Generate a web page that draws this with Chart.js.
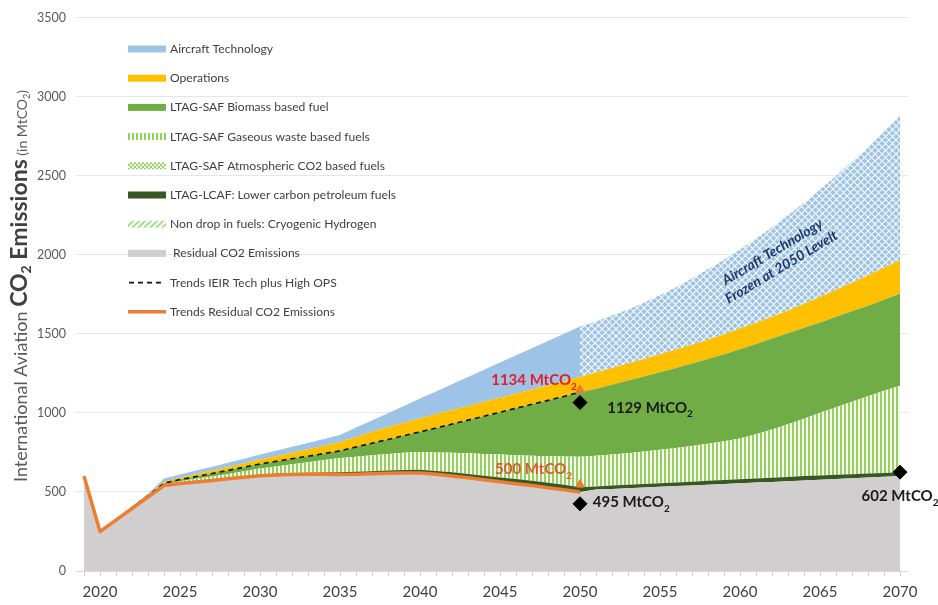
<!DOCTYPE html>
<html><head><meta charset="utf-8">
<script src="https://cdn.jsdelivr.net/npm/chart.js@4.4.0/dist/chart.umd.min.js"></script>
<style>html,body{margin:0;padding:0;background:#fff}#wrap{width:938px;height:605px;position:relative}</style>
</head><body><div id="wrap"><canvas id="c" width="938" height="605"></canvas></div>
<script>
// ---------- DATA (MtCO2), years 2019..2070 ----------
const years = ['2019','2020','2021','2022','2023','2024','2025','2026','2027','2028','2029','2030','2031','2032','2033','2034','2035','2036','2037','2038','2039','2040','2041','2042','2043','2044','2045','2046','2047','2048','2049','2050','2051','2052','2053','2054','2055','2056','2057','2058','2059','2060','2061','2062','2063','2064','2065','2066','2067','2068','2069','2070'];
const xTickLabels = ['2020','2025','2030','2035','2040','2045','2050','2055','2060','2065','2070'];
const yTickValues = [0,500,1000,1500,2000,2500,3000,3500];

// upper boundary of each wedge
const residualTop = [600,250,322,395,468,540,553,563,573,583,593,603,607,610,612,611,610,612,615,618,620,620,612,601,589,577,565,552,540,527,514,500,515,519,523,528,532,537,541,546,550,555,559,563,568,572,577,582,587,591,596,600];
const lcafTop     = [600,250,322,396,470,543,557,568,578,589,599,610,615,619,622,623,624,627,631,635,638,640,633,624,614,603,592,581,570,558,546,530,535,540,545,550,555,560,565,570,575,580,585,590,595,600,604,608,612,616,619,624];
const gaseousTop  = [600,250,323,398,474,550,568,583,598,613,630,648,661,675,688,702,715,723,732,740,747,752,750,747,744,740,736,732,729,726,724,722,728,736,745,755,766,778,791,805,820,838,865,895,928,963,1000,1035,1070,1105,1140,1172];
const biomassTop  = [600,250,324,400,477,555,578,597,616,636,656,677,693,710,726,743,760,784,808,832,856,880,904,929,954,979,1004,1029,1054,1079,1104,1130,1152,1178,1204,1230,1256,1284,1312,1341,1371,1403,1436,1470,1504,1538,1572,1607,1642,1678,1715,1753];
const opsTop      = [600,250,325,402,481,565,590,612,634,657,680,705,726,748,770,792,815,848,880,910,938,965,992,1018,1044,1070,1096,1122,1148,1174,1200,1228,1255,1283,1312,1341,1370,1400,1430,1463,1497,1533,1570,1608,1648,1690,1733,1778,1823,1870,1918,1967];
// aircraft technology 2019..2050
const aircraftTop = [600,250,327,406,488,585,610,635,660,685,710,736,760,785,810,835,860,907,952,998,1044,1090,1135,1181,1227,1272,1318,1364,1409,1455,1501,1546];
// aircraft technology frozen at 2050 level, 2050..2070
const frozenTop   = [1546,1578,1615,1654,1698,1744,1795,1849,1908,1968,2033,2101,2174,2249,2328,2412,2498,2588,2683,2779,2880];
// trend lines 2021..2050 and 2019..2050
const trendIeir     = [324,400,477,555,578,597,616,636,656,677,693,710,726,743,760,784,808,832,856,880,904,929,954,979,1004,1029,1054,1079,1104,1132];
const trendResidual = [600,250,322,395,468,540,553,563,573,583,593,603,607,610,612,611,610,612,615,618,620,620,612,601,589,577,565,552,540,527,514,500];
// markers
const diamondYears = ['2050','2050','2070'];
const diamondValues = [1065,425,625];
const triangleYears = ['2050','2050'];
const triangleValues = [1144,547];

// ---------- patterns ----------
const c0 = document.getElementById('c').getContext('2d');
function pat(w,h,draw){const cv=document.createElement('canvas');cv.width=w;cv.height=h;draw(cv.getContext('2d'),w,h);return c0.createPattern(cv,'repeat');}
const stripes = pat(4,4,(g)=>{g.fillStyle='#f6fbf0';g.fillRect(0,0,4,4);g.fillStyle='#96cf60';g.fillRect(0,0,2,4);});
const hatch = pat(7,7,(g)=>{g.fillStyle='#9dc3e6';g.fillRect(0,0,7,7);g.strokeStyle='rgba(255,255,255,0.95)';g.lineWidth=1.1;g.beginPath();g.moveTo(0,0);g.lineTo(7,7);g.moveTo(7,0);g.lineTo(0,7);g.stroke();});
const dots = pat(4,4,(g)=>{g.fillStyle='#eef7e6';g.fillRect(0,0,4,4);g.fillStyle='#9bd36b';g.fillRect(0,0,2,2);g.fillRect(2,2,2,2);});
const diag = pat(6,6,(g)=>{g.fillStyle='#ffffff';g.fillRect(0,0,6,6);g.strokeStyle='#8fe07a';g.lineWidth=1.6;g.beginPath();g.moveTo(0,6);g.lineTo(6,0);g.moveTo(-1,1);g.lineTo(1,-1);g.moveTo(5,7);g.lineTo(7,5);g.stroke();});

const COL = {grey:'#d0cece', lcaf:'#385723', bio:'#70ad47', ops:'#ffc000', air:'#9dc3e6', orange:'#ed7d31'};

const pad = (arr, before, total) => { const out = new Array(before).fill(null).concat(arr); while (out.length < total) out.push(null); return out; };
const N = years.length;

function area(label, data, bg, fill, order){return {label, data, backgroundColor:bg, borderWidth:0, borderColor:'rgba(0,0,0,0)', pointRadius:0, pointHoverRadius:0, pointHitRadius:0, fill, tension:0, order:order, spanGaps:false};}

const datasets = [
  area('Residual CO2 Emissions', residualTop, COL.grey, 'origin', 10),
  area('LTAG-LCAF: Lower carbon petroleum fuels', lcafTop, COL.lcaf, '-1', 10),
  area('LTAG-SAF Gaseous waste based fuels', gaseousTop, stripes, '-1', 10),
  area('LTAG-SAF Biomass based fuel', biomassTop, COL.bio, '-1', 10),
  area('Operations', opsTop, COL.ops, '-1', 10),
  area('Aircraft Technology', pad(aircraftTop,0,N), COL.air, '-1', 10),
  area('Aircraft Technology Frozen at 2050 Level', pad(frozenTop,31,N), hatch, 4, 10),
  {label:'Trends IEIR Tech plus High OPS', data: pad(trendIeir,2,N), borderColor:'#111', borderWidth:1.6, borderDash:[5,4], pointRadius:0, fill:false, order:2, tension:0},
  {label:'Trends Residual CO2 Emissions', data: pad(trendResidual,0,N), borderColor:COL.orange, borderWidth:3.5, pointRadius:0, fill:false, order:1, tension:0, borderJoinStyle:'round'},
  {type:'scatter', label:'markers', data: diamondYears.map((y,i)=>({x:y,y:diamondValues[i]})), pointStyle:'rectRot', pointRadius:7, backgroundColor:'#000', borderColor:'#000', order:0},
  {type:'scatter', label:'tri', data: triangleYears.map((y,i)=>({x:y,y:triangleValues[i]})), pointStyle:'triangle', pointRadius:5, backgroundColor:COL.orange, borderColor:COL.orange, order:0}
];

const legendItems = [
  {text:'Aircraft Technology', kind:'rect', fill:COL.air},
  {text:'Operations', kind:'rect', fill:COL.ops},
  {text:'LTAG-SAF Biomass based fuel', kind:'rect', fill:COL.bio},
  {text:'LTAG-SAF Gaseous waste based fuels', kind:'rect', fill:stripes},
  {text:'LTAG-SAF Atmospheric CO2 based fuels', kind:'rect', fill:dots},
  {text:'LTAG-LCAF: Lower carbon petroleum fuels', kind:'rect', fill:COL.lcaf},
  {text:'Non drop in fuels: Cryogenic Hydrogen', kind:'rect', fill:diag},
  {text:' Residual CO2 Emissions', kind:'rect', fill:COL.grey},
  {text:'Trends IEIR Tech plus High OPS', kind:'dash'},
  {text:'Trends Residual CO2 Emissions', kind:'line'}
];

const annotations = [
  {text:'1134 MtCO', sub:'2', year:2049.8, value:1205, align:'right', color:'#e0202e'},
  {text:'1129 MtCO', sub:'2', year:2051.7, value:1030, align:'left', color:'#1a1a1a'},
  {text:'500 MtCO', sub:'2', year:2049.5, value:641, align:'right', color:'#e3562b'},
  {text:'495 MtCO', sub:'2', year:2050.8, value:434, align:'left', color:'#1a1a1a'},
  {text:'602 MtCO', sub:'2', year:2067.6, value:471, align:'left', color:'#1a1a1a'}
];

const FONT = 'Lato, "Open Sans", sans-serif';

const overlay = {
  id:'overlay',
  afterDraw(chart){
    const ctx = chart.ctx, xs = chart.scales.x, ys = chart.scales.y;
    ctx.save();
    // legend
    const lx = 128, lw = 38, tx = 170, y0 = 49, dy = 29.2;
    legendItems.forEach((it,i)=>{
      const y = y0 + i*dy;
      if (it.kind==='rect'){ ctx.fillStyle = it.fill; ctx.fillRect(lx, y-3.5, lw, 7); }
      else if (it.kind==='dash'){ ctx.strokeStyle='#111'; ctx.lineWidth=1.6; ctx.setLineDash([5,4]); ctx.beginPath(); ctx.moveTo(lx+1,y); ctx.lineTo(lx+lw-2,y); ctx.stroke(); ctx.setLineDash([]); }
      else { ctx.strokeStyle=COL.orange; ctx.lineWidth=3.5; ctx.beginPath(); ctx.moveTo(lx,y); ctx.lineTo(lx+lw,y); ctx.stroke(); }
      ctx.fillStyle='#404040'; ctx.font='12.1px '+FONT; ctx.textBaseline='middle'; ctx.textAlign='left';
      ctx.fillText(it.text, tx, y);
    });
    // value annotations
    annotations.forEach(a=>{
      const px = xs.getPixelForValue(a.year-2019), py = ys.getPixelForValue(a.value);
      const f1='bold 15px '+FONT, f2='bold 10px '+FONT;
      ctx.font=f1; const w1=ctx.measureText(a.text).width; ctx.font=f2; const w2=ctx.measureText(a.sub).width;
      const sx = a.align==='right' ? px-w1-w2 : px;
      ctx.fillStyle=a.color; ctx.textBaseline='middle'; ctx.textAlign='left';
      ctx.font=f1; ctx.fillText(a.text, sx, py);
      ctx.font=f2; ctx.fillText(a.sub, sx+w1, py+6);
    });
    // rotated note
    {
      const px = xs.getPixelForValue(2062.3-2019), py = ys.getPixelForValue(1970);
      ctx.save(); ctx.translate(px,py); ctx.rotate(-31*Math.PI/180);
      ctx.fillStyle='#1f3864'; ctx.font='italic bold 14px '+FONT; ctx.textAlign='center'; ctx.textBaseline='middle';
      ctx.fillText('Aircraft Technology', 0, -8.5);
      ctx.fillText('Frozen at 2050 Levelt', 0, 9);
      ctx.restore();
    }
    // y-axis title
    {
      const parts = [
        {t:'International Aviation ', f:'18px '+FONT, c:'#595959', d:0},
        {t:'CO', f:'bold 23px '+FONT, c:'#404040', d:0},
        {t:'2', f:'bold 14px '+FONT, c:'#404040', d:4},
        {t:' Emissions', f:'bold 23px '+FONT, c:'#404040', d:0},
        {t:' (in MtCO', f:'14px '+FONT, c:'#595959', d:0},
        {t:'2', f:'9px '+FONT, c:'#595959', d:3},
        {t:')', f:'14px '+FONT, c:'#595959', d:0}
      ];
      let total=0; parts.forEach(p=>{ctx.font=p.f; p.w=ctx.measureText(p.t).width; total+=p.w;});
      ctx.save(); ctx.translate(27, 286); ctx.rotate(-Math.PI/2);
      ctx.textBaseline='alphabetic'; ctx.textAlign='left';
      let x=-total/2; parts.forEach(p=>{ctx.font=p.f; ctx.fillStyle=p.c; ctx.fillText(p.t, x, p.d); x+=p.w;});
      ctx.restore();
    }
    ctx.restore();
  }
};

new Chart(document.getElementById('c'), {
  type:'line',
  data:{labels:years, datasets},
  options:{
    responsive:false, animation:false, devicePixelRatio:1,
    layout:{padding:{top:8,right:30,left:0,bottom:0}},
    plugins:{legend:{display:false}, tooltip:{enabled:false}},
    elements:{line:{borderCapStyle:'butt'}},
    scales:{
      x:{type:'category', offset:true,
         grid:{drawOnChartArea:false, drawTicks:true, tickLength:5, color:'#d0d0d0'},
         border:{display:true, color:'#d9d9d9'},
         ticks:{autoSkip:false, maxRotation:0, minRotation:0, padding:7, color:'#404040', font:{family:FONT, size:15},
           callback:function(v){const l=this.getLabelForValue(v); return xTickLabels.includes(l)?l:'';}},
         afterFit(s){s.height=34;}
      },
      y:{min:0, max:3500,
         afterBuildTicks(s){s.ticks = yTickValues.map(v=>({value:v}));},
         grid:{color:'#e6e6e6', drawTicks:false},
         border:{display:false},
         ticks:{padding:10, color:'#595959', font:{family:FONT, size:12.5}, callback:(v)=>String(v)},
         afterFit(s){s.width=76;}
      }
    }
  },
  plugins:[overlay]
});
</script></body></html>
